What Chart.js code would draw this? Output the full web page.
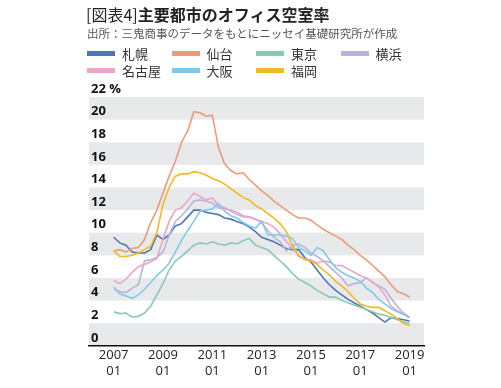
<!DOCTYPE html>
<html lang="ja">
<head>
<meta charset="utf-8">
<script src="https://cdn.jsdelivr.net/npm/chart.js@4.4.1/dist/chart.umd.min.js"></script>
<style>
  html, body { margin: 0; padding: 0; background: #fff; }
  #wrap { position: relative; width: 501px; height: 388px; overflow: hidden;
    font-family: "Noto Sans CJK JP", "Noto Sans", sans-serif; }
  #title { position: absolute; left: 86px; top: 3px; font-size: 16px; line-height: 22px;
    color: #222; font-weight: bold; white-space: nowrap; z-index: 2; }
  #title span { font-weight: normal; }
  #source { position: absolute; left: 87px; top: 25px; font-size: 11.5px; line-height: 16px;
    color: #555; white-space: nowrap; z-index: 2; }
  #legend { position: absolute; left: 87px; top: 44px; width: 360px; height: 36px; z-index: 2; }
  .item { position: absolute; height: 18px; display: flex; align-items: center;
    font-size: 13px; color: #333; white-space: nowrap; }
  .swatch { width: 28px; height: 5px; margin-right: 7px; }
  #chart { position: absolute; left: 0; top: 0; }
</style>
</head>
<body>
<div id="wrap">
  <div id="title"><span>[図表4]</span>主要都市のオフィス空室率</div>
  <div id="source">出所：三鬼商事のデータをもとにニッセイ基礎研究所が作成</div>
  <div id="legend"></div>
  <canvas id="chart" width="501" height="388"></canvas>
</div>
<script>
// quarterly readings, first point = 2007/01, % vacancy
var startYear = 2007;
var stepMonths = 3;
var tickMonths = [0, 24, 48, 72, 96, 120, 144];
var yTicks = [0, 2, 4, 6, 8, 10, 12, 14, 16, 18, 20, 22];
var cities = ['札幌', '仙台', '東京', '横浜', '名古屋', '大阪', '福岡'];
var colors = ['#4d77b6', '#ec9b7a', '#88c9b3', '#b9b3d9', '#eda4c9', '#7fc9ec', '#f2b922'];

var sapporo = [9.6, 9.1, 8.9, 8.3, 8.2, 8.2, 8.5, 9.8, 9.4, 9.8, 10.6, 10.8, 11.4,
  12.0, 12.0, 11.8, 11.7, 11.6, 11.3, 11.2, 11.0, 10.8, 10.5, 10.1, 9.6, 9.4, 9.2,
  8.9, 8.6, 8.5, 8.5, 7.8, 7.4, 6.7, 6.0, 5.4, 4.9, 4.5, 4.1, 3.8, 3.5, 3.2, 2.9,
  2.5, 2.1, 2.5, 2.4, 2.3, 2.2];
var sendai = [8.4, 8.5, 8.3, 8.6, 8.7, 9.4, 10.9, 12.0, 13.5, 15.0, 16.3, 18.0, 19.0,
  20.7, 20.6, 20.3, 20.4, 17.5, 16.1, 15.5, 15.2, 15.3, 14.7, 14.2, 13.7, 13.3, 12.8,
  12.4, 12.0, 11.6, 11.3, 11.3, 11.1, 10.7, 10.3, 10.0, 9.7, 9.4, 8.9, 8.5, 8.0, 7.6,
  7.1, 6.6, 6.1, 5.4, 4.8, 4.6, 4.3];
var tokyo = [3.0, 2.85, 2.9, 2.55, 2.6, 2.9, 3.5, 4.5, 5.5, 6.7, 7.5, 7.9, 8.4,
  8.9, 9.1, 9.0, 9.2, 9.0, 8.9, 9.1, 9.0, 9.3, 9.5, 8.9, 8.7, 8.5, 8.0,
  7.5, 7.0, 6.4, 5.9, 5.6, 5.3, 4.9, 4.6, 4.3, 4.3, 4.0, 3.8, 3.6, 3.4, 3.2, 3.0,
  2.8, 2.7, 2.5, 2.3, 2.1, 2.0];
var yokohama = [5.0, 4.8, 4.7, 5.1, 5.4, 7.5, 7.6, 7.8, 8.3, 9.8, 11.0, 11.5, 12.1,
  12.8, 12.9, 12.8, 12.6, 12.2, 12.1, 12.0, 11.8, 11.5, 11.4, 11.2, 10.9, 10.2, 9.6,
  9.2, 8.4, 8.9, 9.0, 8.7, 8.2, 7.9, 7.5, 7.0, 6.5, 6.0, 5.3, 5.5, 5.6, 6.0, 5.6,
  5.3, 5.0, 4.2, 3.5, 2.9, 2.5];
var nagoya = [5.8, 5.5, 5.9, 6.5, 7.0, 7.2, 7.4, 7.7, 9.4, 11.0, 12.0, 12.2, 12.8,
  13.5, 13.2, 12.9, 13.1, 12.4, 12.2, 11.9, 11.6, 11.4, 11.4, 11.2, 11.0, 10.8, 10.5,
  9.9, 9.2, 8.7, 7.9, 7.7, 7.6, 7.3, 7.5, 7.4, 7.1, 7.1, 6.8, 6.5, 6.2, 6.0, 5.6,
  5.2, 4.5, 3.5, 3.1, 2.8, 2.5];
var osaka = [5.2, 4.6, 4.4, 4.2, 4.5, 5.0, 5.6, 6.2, 6.7, 7.3, 8.3, 9.3, 10.2,
  11.0, 11.9, 12.0, 12.1, 12.6, 11.9, 11.5, 11.3, 10.9, 10.6, 10.4, 11.0, 9.8, 9.8,
  9.8, 9.7, 9.5, 8.7, 8.4, 8.0, 8.7, 8.4, 7.6, 6.9, 6.5, 6.2, 6.0, 5.7, 5.1, 4.7,
  4.1, 3.7, 3.3, 3.0, 2.8, 2.5];
var fukuoka = [8.4, 7.9, 7.9, 8.0, 8.2, 8.5, 8.8, 10.0, 12.5, 14.0, 15.0, 15.2, 15.2,
  15.4, 15.3, 15.1, 14.8, 14.6, 14.3, 13.9, 13.5, 13.1, 12.9, 12.4, 12.1, 11.7, 11.3,
  10.8, 10.1, 8.9, 8.0, 7.6, 7.5, 7.2, 6.7, 6.25, 5.7, 5.3, 4.8, 4.2, 3.7, 3.5, 3.4,
  3.4, 3.1, 2.8, 2.4, 2.0, 1.8];

var series = [sapporo, sendai, tokyo, yokohama, nagoya, osaka, fukuoka];

// html legend, 4 per row
var legendEl = document.getElementById('legend');
cities.forEach(function (name, i) {
  var item = document.createElement('div');
  item.className = 'item';
  item.style.left = (i % 4) * 84.5 + 'px';
  item.style.top = Math.floor(i / 4) * 17 + 'px';
  item.innerHTML = '<span class="swatch" style="background:' + colors[i] + '"></span>' + name;
  legendEl.appendChild(item);
});

// grey bands every other 2% step
var bandsPlugin = {
  id: 'bands',
  beforeDraw: function (chart) {
    var y = chart.scales.y;
    var area = chart.chartArea;
    var c = chart.ctx;
    c.save();
    c.fillStyle = '#e8e9eb';
    for (var v = 0; v < 22; v += 4) {
      var top = y.getPixelForValue(v + 2);
      var bottom = y.getPixelForValue(v);
      c.fillRect(area.left, top, area.right - area.left, bottom - top);
    }
    c.restore();
  }
};

var datasets = series.map(function (values, i) {
  return {
    label: cities[i],
    data: values.map(function (v, k) { return { x: k * stepMonths, y: v }; }),
    borderColor: colors[i],
    borderWidth: 1.6,
    pointRadius: 0,
    tension: 0,
    fill: false,
    order: cities.length - i
  };
});

new Chart(document.getElementById('chart').getContext('2d'), {
  type: 'line',
  data: { datasets: datasets },
  options: {
    responsive: false,
    animation: false,
    layout: { padding: { top: 97, left: 85, right: 77, bottom: 7 } },
    plugins: { legend: { display: false }, tooltip: { enabled: false } },
    scales: {
      x: {
        type: 'linear',
        min: -12,
        max: 151,
        afterBuildTicks: function (s) {
          s.ticks = tickMonths.map(function (v) { return { value: v }; });
        },
        grid: { display: false, drawTicks: false },
        border: { display: true, color: '#111', width: 1.5 },
        ticks: {
          autoSkip: false,
          maxRotation: 0,
          padding: 2,
          color: '#222',
          font: { family: 'Open Sans', size: 13, lineHeight: 1.2 },
          callback: function (v) { return [String(startYear + v / 12), '01']; }
        }
      },
      y: {
        min: 0,
        max: 22,
        afterBuildTicks: function (s) {
          s.ticks = yTicks.map(function (v) { return { value: v }; });
        },
        grid: { display: false, drawTicks: false },
        border: { display: false },
        ticks: {
          mirror: true,
          padding: 2,
          labelOffset: -8,
          color: '#111',
          font: { family: 'Open Sans', size: 13, weight: 'bold' },
          callback: function (v) { return v === 22 ? '22 %' : String(v); }
        }
      }
    }
  },
  plugins: [bandsPlugin]
});
</script>
</body>
</html>
